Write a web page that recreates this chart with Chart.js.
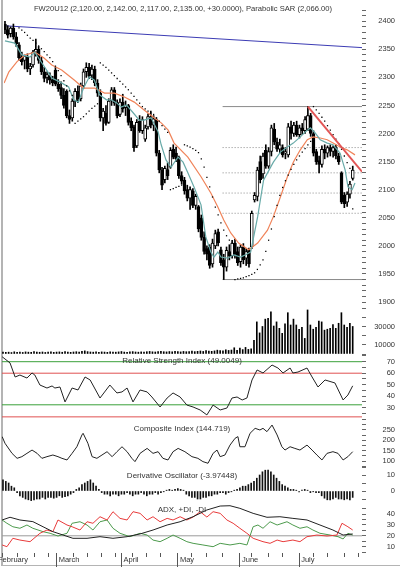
<!DOCTYPE html>
<html>
<head>
<meta charset="utf-8">
<script src="https://cdn.jsdelivr.net/npm/chart.js@4.4.1/dist/chart.umd.min.js"></script>
<style>
body { margin: 0; background: #fff; }
#wrap { position: relative; width: 400px; height: 568px; overflow: hidden; }
#wrap canvas { position: absolute; left: 0; }
#frame { position: absolute; left: 1px; top: 0; width: 397px; height: 565px; border-left: 2px solid #b4b4b4; border-bottom: 1px solid #b4b4b4; }
</style>
</head>
<body>
<div id="wrap">
  <div id="frame"></div>
  <canvas id="cPrice"></canvas>
  <canvas id="cVol"></canvas>
  <canvas id="cRsi"></canvas>
  <canvas id="cComp"></canvas>
  <canvas id="cDo"></canvas>
  <canvas id="cAdx"></canvas>
</div>
<script>
'use strict';

// ---- axis categories ----
var monthNames = ['February', 'March', 'April', 'May', 'June', 'July'];
var monthDays = [-2.5, 19, 42, 62, 84, 105];
var weekDays = [0, 5, 11, 16, 25, 30, 35, 40, 46, 51, 56, 67, 72, 78, 88, 94, 99, 110, 115, 121, 126];

// ---- daily price bars (trading day 0..124) ----
var opens = [2395,2385,2378,2388,2372,2358,2336,2330,2336,2315,
  2322,2345,2350,2330,2310,2300,2303,2296,2313,2288,
  2282,2268,2275,2232,2228,2258,2275,2262,2285,2310,
  2318,2304,2315,2290,2272,2228,2236,2220,2258,2278,
  2254,2234,2256,2246,2250,2222,2212,2178,2222,2205,
  2190,2212,2230,2215,2225,2165,2135,2118,2136,2140,
  2172,2165,2157,2125,2117,2100,2085,2098,2072,2070,
  2050,2015,1995,1998,1968,2000,2025,1993,1975,1962,
  1990,1982,2005,1990,1972,1998,1978,1993,1998,2082,
  2088,2150,2128,2170,2142,2168,2208,2185,2172,2175,
  2165,2162,2212,2200,2215,2198,2210,2205,2208,2232,
  2200,2168,2152,2145,2172,2165,2175,2168,2175,2160,
  2130,2090,2078,2092,2120];
var highs = [2400,2392,2390,2395,2380,2362,2345,2340,2342,2325,
  2348,2368,2355,2336,2318,2310,2308,2302,2318,2296,
  2292,2280,2278,2242,2262,2280,2285,2290,2315,2326,
  2325,2322,2320,2296,2278,2245,2250,2262,2282,2282,
  2260,2262,2270,2258,2252,2228,2215,2225,2232,2230,
  2215,2235,2240,2232,2228,2170,2140,2142,2148,2175,
  2180,2176,2160,2132,2122,2108,2105,2102,2092,2072,
  2055,2025,2000,2002,2012,2028,2030,1998,1985,1998,
  2002,2010,2012,1998,2002,2004,1995,1996,2062,2095,
  2140,2160,2165,2180,2175,2215,2218,2192,2190,2180,
  2175,2218,2222,2220,2222,2215,2218,2230,2248,2236,
  2205,2172,2160,2178,2180,2178,2180,2178,2180,2165,
  2132,2095,2096,2115,2142];
var lows = [2378,2370,2372,2368,2355,2330,2322,2315,2310,2305,
  2318,2338,2325,2305,2292,2290,2288,2285,2285,2275,
  2262,2245,2228,2218,2222,2248,2255,2258,2280,2300,
  2298,2296,2285,2266,2222,2205,2215,2218,2250,2250,
  2228,2230,2238,2232,2215,2205,2168,2175,2202,2200,
  2186,2208,2210,2205,2160,2130,2100,2112,2118,2138,
  2155,2150,2120,2110,2092,2080,2065,2068,2065,2025,
  2010,1985,1975,1960,1962,1995,2000,1965,1940,1955,
  1975,1978,1978,1965,1962,1968,1965,1962,1995,2078,
  2080,2112,2120,2138,2138,2160,2180,2168,2165,2158,
  2155,2158,2190,2195,2195,2192,2198,2200,2205,2195,
  2160,2145,2130,2140,2155,2158,2160,2158,2155,2145,
  2075,2068,2070,2085,2117];
var closes = [2385,2375,2388,2372,2360,2335,2328,2338,2315,2320,
  2345,2350,2330,2310,2298,2305,2295,2290,2288,2280,
  2268,2250,2232,2225,2258,2275,2262,2285,2310,2318,
  2302,2315,2290,2272,2228,2240,2218,2258,2278,2254,
  2232,2256,2244,2250,2220,2210,2175,2220,2205,2225,
  2210,2230,2215,2226,2165,2135,2108,2138,2125,2170,
  2158,2155,2125,2115,2098,2085,2100,2072,2088,2030,
  2015,1990,1985,1965,2005,2022,2005,1970,1962,1992,
  1982,2005,1985,1970,1998,1975,1990,1968,2058,2090,
  2135,2118,2160,2142,2168,2210,2185,2172,2180,2162,
  2168,2212,2200,2215,2198,2210,2205,2225,2232,2200,
  2165,2150,2145,2172,2165,2175,2168,2175,2160,2150,
  2078,2075,2092,2110,2135];

var volumes = [2200,1800,2000,1600,2400,1900,2100,1700,2300,2000,
  1800,2600,2100,1900,2200,1700,2000,2400,1800,2100,
  2300,1900,2600,2000,1800,2200,2500,2100,2900,3400,
  2600,2200,2000,2400,1900,2300,2100,1800,2500,2200,
  2000,2300,2700,2100,1900,2400,2600,2200,2000,2300,
  2100,2500,2800,2400,2200,2600,3000,2500,2300,2700,
  2400,2900,2600,2300,2800,2500,2700,3100,2600,2900,
  3300,2800,3600,3100,2900,3400,4200,3800,3500,4600,
  3900,4300,6800,4100,6500,4800,7200,5000,5600,15000,
  35000,23000,30000,38000,39000,46000,30500,35000,28000,22500,
  33000,45000,31600,38000,31600,27000,29000,17000,48000,31600,
  27000,29000,36000,35000,26000,27000,28000,32000,28000,33500,
  45000,31600,29000,33500,30000];

var sar = [null,null,null,null,null,
  2388,2384,2380,2375,2370,2366,2361,2356,2351,2346,2340,2335,
  2328,2320,2312,2303,2294,2285,2276,2268,
  2218,2222,2226,2230,2235,2240,2245,2249,2253,
  2326,2322,2318,2313,2308,2303,2298,2293,2288,2283,2278,2272,2266,2260,2254,2248,2244,2240,2237,2234,2228,2222,2214,
  2208,2202,
  2100,2102,2104,2106,2108,
  2180,2178,2176,2173,2170,2166,2155,2140,2122,2105,2087,2069,2055,2041,2028,2018,2010,2005,
  1940,1941,1942,1943,1945,1947,1949,1952,1958,1966,1975,1990,2010,2030,2052,2072,2090,2104,2116,2126,2136,2145,2153,2160,2167,2173,2180,2186,
  2248,2242,2236,2229,2222,2214,2206,2198,2190,2182,2172,2160,2148,2138,
  2066];

// short and long moving averages
var tealDays = [0,3.5,6,8.9,10.6,13.1,16.7,19.5,22.7,24.5,26.2,28,30.1,31.9,33.7,36.2,37.9,39.7,41.5,43.3,
  45.7,47.9,49.6,52.1,54.6,55.7,57.4,59.2,61.7,63.5,65.2,67.4,69.9,71.6,73.4,74.5,75.9,77,79.4,81.6,
  84,85.8,87.6,90.1,92.2,93.6,95.7,98.2,100.7,102.8,105.3,107.1,108.9,110.6,112.4,114.9,117,119.5,121.3,122.3,
  123.8,124.8];
var tealVals = [2365,2361,2340,2336,2345,2326,2299,2292,2283,2260,2256,2281,2301,2295,2269,2260,2260,2255,2247,2251,
  2237,2224,2224,2228,2203,2180,2153,2140,2158,2149,2130,2105,2073,2016,1989,1980,1989,1980,1978,1984,
  1980,1984,1989,2052,2117,2130,2149,2167,2176,2183,2194,2203,2210,2201,2189,2183,2180,2165,2135,2105,
  2100,2112];
var orangeDays = [-0.3,1.4,4.3,7.1,10.6,13.8,16.7,20.2,24.8,28,31.9,35.5,39,42.6,46.1,49.6,53.2,55.7,58.2,60.3,
  65.2,69.9,73.4,75.9,78,80.5,83.3,86.9,90.1,93.6,95.7,98.2,100.7,102.8,105.3,107.8,109.9,112.4,114.9,117,
  119.5,122,124.8];
var orangeVals = [2290,2310,2328,2340,2345,2335,2322,2313,2295,2281,2281,2272,2272,2265,2256,2242,2228,2219,2206,2183,
  2158,2123,2094,2069,2046,2023,2005,1993,2005,2028,2052,2087,2123,2149,2171,2189,2194,2192,2189,2183,
  2176,2171,2162];

// drawn studies on the price panel
var blueTrendVals = [2392, 2353];
var redTrendDays = [108, 127.3];
var redTrendVals = [2248, 2132];
var fibStartDay = 77.6;
var fibLevels = [2248, 2175, 2130, 2094, 2058, 1940];
var fibDotted = [false, true, true, true, true, false];

// indicators
var rsiDays = [-0.3,2.5,4.3,6,8.5,10.3,11.3,13.1,15.6,17.4,18.4,20.2,22,24.5,26.6,29.1,30.9,34.4,37.9,40.4,
  42.2,44,46.1,48.6,51.1,52.8,55.7,58.2,60.3,62.8,65.2,67.4,69.9,72.3,74.5,77,79.4,81.2,83,84.8,
  86.5,88.3,90.1,92.2,95.4,97.5,99.3,101.8,102.8,104.6,107.8,109.6,111.7,114.2,117.7,120.6,122.3,124];
var rsiVals = [74.3,68.9,56.7,58.4,55.8,60.2,58.4,49.7,47.1,48.9,47.1,48,35,47.1,45.4,56.7,54.1,38.4,49.7,42.8,
  43.7,47.1,35,45.4,43.7,39.3,30.6,38.4,42.8,39.3,32.3,30.6,28,23.7,32.3,28,29.7,38.4,39.3,36.7,
  38.4,54.1,62.8,60.2,67.1,64.5,60.2,64.5,60.2,61,64.5,56.7,48,54.1,51.5,36.7,41,49];
var rsiLevels = [70, 60, 32.5, 22];
var rsiLevelColors = ['#3aa03a', '#e05050', '#3aa03a', '#e05050'];

var compDays = [-0.3,0.7,3.2,5,6.7,8.5,10.3,12.1,13.8,15.6,17.7,19.5,20.9,22.7,24.5,26.2,28,28.4,30.1,31.6,
  33.3,35.1,36.9,38.7,40.4,42.2,44,45.7,46.8,48.6,51.1,53.2,55,56.7,58.5,60.3,62.1,64.5,67,69.1,
  70.9,72.7,74.5,75.9,77,78.7,80.5,82.3,83.3,84,85.8,87.6,89.4,91.1,92.2,93.6,95.4,97.2,98.9,100,
  101.8,103.5,105.3,107.8,109.6,111.3,113.1,114.9,117,118.8,120.6,122.3,124];
var compVals = [218,186,137,113,121,137,153,137,113,121,129,121,113,105,137,169,226,234,186,121,
  113,129,145,121,145,169,145,113,97,137,161,137,145,113,105,145,161,145,121,113,
  97,89,137,153,121,129,177,210,218,169,169,234,258,250,258,242,274,226,169,153,
  169,161,153,177,153,129,105,137,145,137,105,121,145];

var derivOsc = [7,6,5,3,2, -1,-3,-4,-5,-5.5, -6,-5.5,-5,
  -5,-4,-5,-4,-4,-4.5,-4,-3,-4,-3.5, -3,-2,-1,1, 2,4,5,6,7,5,3, 1,-1,-2,
  -2,-3,-2,-2,-3,-2,-2,-1,-2,-3,-2,-2,-1,-2,-3,-2,
  -2,-1,-2,-1,-0.5,0.5,1,0.5, 1,1.5,1,0.5,
  -2,-3,-4,-4,-5,-5,-4,-4,-3,-3,-2, -2,-1,-1,-2,-1,-0.5,0.5,
  1,2,3,3,4,5, 6,8,10,12,13,13,12,10,8,6,4,3,
  2,1,1,0.5,-0.5,0.5, 1,0.5,-1,-0.5,-1,-1,
  -3,-4.5,-5.5,-5.5,-5,-4,-5,-5,-5.5,-5,-5.5,-4];

var adxDays = [-0.3,2.5,6,10.6,14.2,17.7,21.3,24.8,29.8,34.4,39,44,48.6,53.2,58.2,62.8,67.4,72.3,77,80.5,
  84,88.7,93.6,98.2,102.8,107.8,112.4,117,120.6,124];
var adxVals = [34.5,37,34.5,33,28.3,23.8,20.7,17.7,17.7,19.2,17.7,19.2,21.7,25.3,29.9,32.9,37.5,43.7,47.3,47.6,
  45.2,40.6,37,37.5,36,34.5,29.9,25.3,20.7,21.7];
var pdiDays = [-0.3,1.4,3.5,6,8.5,10.6,14.2,16.7,19.5,22.7,24.5,27.3,29.8,31.9,34.4,36.9,39,41.5,45,48.6,
  51.1,53.2,55.7,58.2,60.3,62.8,65.2,67.4,70.9,74.5,77,80.5,84,86.5,88.7,90.4,92.2,94.7,97.2,100.7,
  102.8,105.3,107.8,109.9,112.4,116,118.8,120.6,122.3,124];
var pdiVals = [34.5,31.5,28.3,26.9,29.9,26.9,23.8,22.3,19.8,22.3,31.5,32.9,29.9,25.3,32.9,34.5,26.9,22.3,19.2,22.3,
  20.7,16.1,14.6,17.7,20.7,17.7,14.6,13.1,11.6,10,13.1,11.6,13.1,11.6,28.3,29.9,26.9,32.9,29.9,32.9,
  29.9,26.9,28.3,25.3,22.3,20.7,19.2,17.1,22.3,20.7];
var mdiDays = [-0.3,1.4,3.5,6,9.6,13.1,15.6,17.7,19.5,22.7,24.5,27.3,29.8,31.9,34.4,36.9,39,41.5,44,46.1,
  48.6,51.1,53.2,55.7,58.2,60.3,62.8,65.2,67.4,69.9,72.3,74.5,77,79.4,81.6,84,86.5,88.7,92.2,94.7,
  97.2,99.3,102.8,105.3,107.8,111.3,114.9,118.4,120.2,122.3,124];
var mdiVals = [11.6,10,17.7,16.1,14.6,22.3,25.3,23.8,34.5,29.9,28.3,25.3,32.9,31.5,37.5,34.5,42.1,36,34.5,42.1,
  40.6,34.5,37.5,32.9,36,34.5,37.5,34.5,37.2,42.1,37.2,42.1,40.6,34.5,31.5,26.9,22.3,17.7,14.6,13.1,
  16.1,14.6,16.1,14.6,19.2,20.7,19.8,20.7,31.5,28.3,25.3];
var adxLevel = 20;

// ---- helpers ----
var X_MIN = -0.35, X_MAX = 127.3;
var FONT = 'Liberation Sans';

Chart.register({
    id: 'panelTitle',
    afterDraw: function(chart, args, opts) {
        if (!opts.text) return;
        var ctx = chart.ctx, a = chart.chartArea;
        ctx.save();
        ctx.font = (opts.size || 8) + 'px "' + FONT + '"';
        ctx.fillStyle = '#333';
        ctx.textAlign = 'center';
        ctx.textBaseline = 'middle';
        ctx.fillText(opts.text, (a.left + a.right) / 2, opts.y);
        ctx.restore();
    }
});

function pts(days, vals) {
    return vals.map(function(v, i) { return {x: days[i], y: v}; });
}
function flat(level, from) {
    return [{x: from === undefined ? X_MIN : from, y: level}, {x: X_MAX, y: level}];
}
function line(data, color, width, dash, order) {
    return {type: 'line', data: data, borderColor: color, borderWidth: width || 1, borderDash: dash || [],
            pointRadius: 0, tension: 0, fill: false, order: order || 0};
}

function yAxis(min, max, step, labels) {
    return {
        type: 'linear', position: 'right', min: min, max: max,
        afterBuildTicks: function(ax) {
            var t = [];
            for (var v = Math.ceil(min / step) * step; v <= max; v += step) t.push({value: v});
            ax.ticks = t;
        },
        afterFit: function(ax) { ax.width = 33; },
        grid: {drawOnChartArea: false, tickLength: 4, color: '#666'},
        border: {display: false},
        ticks: {autoSkip: false, crossAlign: 'far', padding: 0, color: '#333',
                font: {family: FONT, size: 7.5},
                callback: function(v) { return labels.indexOf(v) >= 0 ? String(v) : ''; }}
    };
}

function xAxis(extra) {
    var ax = {type: 'linear', min: X_MIN, max: X_MAX, offset: false, grid: {offset: false}};
    Object.keys(extra || {}).forEach(function(k) { ax[k] = extra[k]; });
    return ax;
}

function panel(id, top, height, padTop, padBottom, yScale, datasets, title, extraScales) {
    var canvas = document.getElementById(id);
    canvas.width = 400;
    canvas.height = height;
    canvas.style.top = top + 'px';
    var scales = {x: xAxis({display: false}), y: yScale};
    if (extraScales) Object.keys(extraScales).forEach(function(k) { scales[k] = extraScales[k]; });
    return new Chart(canvas, {
        type: 'bar',
        data: {datasets: datasets},
        options: {
            responsive: false, animation: false, events: [],
            layout: {padding: {left: 2, right: 5, top: padTop, bottom: padBottom}},
            scales: scales,
            plugins: {legend: {display: false}, tooltip: {enabled: false}, panelTitle: title || {}}
        }
    });
}

// ---- price panel ----
var priceSets = [];
fibLevels.forEach(function(lv, i) {
    priceSets.push(line(flat(lv, fibStartDay), '#8a8a8a', 1, fibDotted[i] ? [1, 2] : [], 10));
});
priceSets.push(line([{x: X_MIN, y: blueTrendVals[0]}, {x: X_MAX, y: blueTrendVals[1]}], '#3c3cb4', 1, [], 9));
priceSets.push({
    type: 'bar', order: 5, grouped: false, barThickness: 1, backgroundColor: '#000',
    data: highs.map(function(h, i) { return {x: i, y: [lows[i], h]}; })
});
priceSets.push({
    type: 'bar', order: 4, grouped: false, barThickness: 3, borderWidth: 1, borderSkipped: false,
    borderColor: '#000',
    backgroundColor: closes.map(function(c, i) { return c >= opens[i] ? '#fff' : '#000'; }),
    data: opens.map(function(o, i) { return {x: i, y: [o, closes[i]]}; })
});
priceSets.push(line(pts(orangeDays, orangeVals), '#f0845a', 1.2, [], 3));
priceSets.push(line(pts(tealDays, tealVals), '#68aaa8', 1.2, [], 2));
priceSets.push({
    type: 'line', order: 1, showLine: false, pointStyle: 'rect', pointRadius: 0.9,
    pointBackgroundColor: '#000', pointBorderWidth: 0,
    data: sar.map(function(v, i) { return {x: i, y: v}; }).filter(function(p) { return p.y !== null; })
});
priceSets.push(line(pts(redTrendDays, redTrendVals), '#e25555', 2, [], 0));

panel('cPrice', 0, 312, 10, 10,
    yAxis(1900, 2420, 10, [1900, 1950, 2000, 2050, 2100, 2150, 2200, 2250, 2300, 2350, 2400]),
    priceSets,
    {text: 'FW20U12 (2,120.00, 2,142.00, 2,117.00, 2,135.00, +30.0000), Parabolic SAR (2,066.00)', y: 9, size: 7.6});

// ---- volume ----
panel('cVol', 300, 60, 5, 6,
    yAxis(0, 53400, 10000, [10000, 30000]),
    [{type: 'bar', barThickness: 1, backgroundColor: '#000',
      data: volumes.map(function(v, i) { return {x: i, y: v}; })}]);

// ---- RSI ----
var rsiSets = rsiLevels.map(function(lv, i) { return line(flat(lv), rsiLevelColors[i], 1, [], 5); });
rsiSets.push(line(pts(rsiDays, rsiVals), '#222', 1, [], 0));
panel('cRsi', 345, 80, 9, 6, yAxis(20.15, 76.7, 5, [30, 40, 50, 60, 70]), rsiSets,
    {text: 'Relative Strength Index (49.0049)', y: 15.7});

// ---- composite index ----
panel('cComp', 412, 62, 7, 7, yAxis(71, 303.2, 25, [100, 150, 200, 250]),
    [line(pts(compDays, compVals), '#222', 1, [], 0)],
    {text: 'Composite Index (144.719)', y: 17});

// ---- derivative oscillator ----
panel('cDo', 462, 48, 5, 5, yAxis(-8.75, 15, 5, [0, 10]),
    [{type: 'bar', barThickness: 1, backgroundColor: '#111',
      data: derivOsc.map(function(v, i) { return {x: i, y: v}; })}],
    {text: 'Derivative Oscillator (-3.97448)', y: 14});

// ---- ADX with date axis ----
var dateAxes = {
    xw: xAxis({
        position: 'bottom', weight: 1,
        afterBuildTicks: function(ax) { ax.ticks = weekDays.map(function(v) { return {value: v}; }); },
        afterFit: function(ax) { ax.height = 0; },
        grid: {offset: false, drawOnChartArea: false, tickLength: 4, color: '#555'},
        border: {display: false},
        ticks: {display: false}
    }),
    xm: xAxis({
        position: 'bottom', weight: 2,
        afterBuildTicks: function(ax) { ax.ticks = monthDays.map(function(v) { return {value: v}; }); },
        afterFit: function(ax) { ax.height = 15; },
        grid: {offset: false, drawOnChartArea: false, tickLength: 14, color: '#555'},
        border: {display: false},
        ticks: {autoSkip: false, maxRotation: 0, align: 'start', padding: -11.5, color: '#333',
                font: {family: FONT, size: 7.5},
                callback: function(v, i) { return ' ' + monthNames[i]; }}
    })
};
panel('cAdx', 498, 70, 7, 0, yAxis(4.22, 48.26, 5, [10, 20, 30, 40]),
    [line(flat(adxLevel), '#9a9a9a', 1, [], 5),
     line(pts(pdiDays, pdiVals), '#4c9a4c', 1, [], 2),
     line(pts(mdiDays, mdiVals), '#e83a3a', 1, [], 1),
     line(pts(adxDays, adxVals), '#222', 1, [], 0)],
    {text: 'ADX, +DI, -DI', y: 12}, dateAxes);
</script>
</body>
</html>
